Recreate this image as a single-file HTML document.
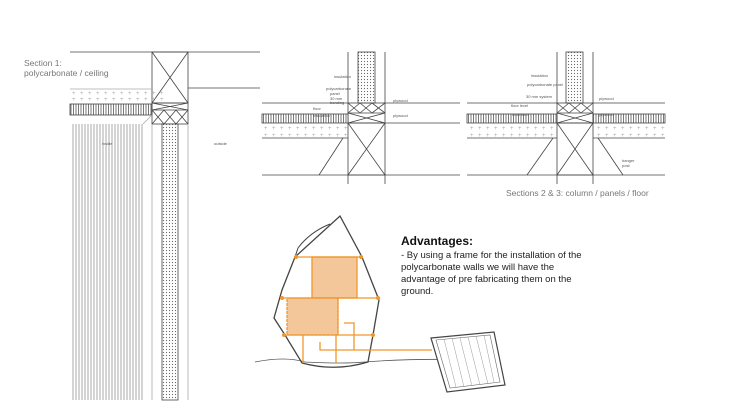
<!DOCTYPE html><html><head><style>body{margin:0;background:#fff}svg{display:block}text{font-family:"Liberation Sans",sans-serif}</style></head><body>
<svg width="730" height="411" viewBox="0 0 730 411" xmlns="http://www.w3.org/2000/svg">
<defs>
<pattern id="vs" width="3" height="10" patternUnits="userSpaceOnUse"><rect width="3" height="10" fill="#fff"/><line x1="1" y1="0" x2="1" y2="10" stroke="#aaa" stroke-width="1"/></pattern>
<pattern id="hb" width="2.5" height="10" patternUnits="userSpaceOnUse"><rect width="2.5" height="10" fill="#fff"/><line x1="1" y1="0" x2="1" y2="10" stroke="#555" stroke-width="0.8"/></pattern>
<pattern id="dt" width="3" height="3" patternUnits="userSpaceOnUse"><rect width="3" height="3" fill="#fff"/><circle cx="1.5" cy="1.5" r="0.6" fill="#666"/></pattern>
</defs>
<g stroke="#444" stroke-width="0.8" fill="none">
<line x1="70" y1="52" x2="260" y2="52"/>
<line x1="188" y1="88" x2="260" y2="88"/>
<rect x="152" y="52" width="36" height="51"/>
<line x1="152" y1="52" x2="188" y2="103"/><line x1="188" y1="52" x2="152" y2="103"/>
<line x1="70" y1="89" x2="152" y2="89" stroke="#aaa"/>
<rect x="70" y="104" width="82" height="11" fill="url(#hb)"/>
<rect x="152" y="103" width="36" height="21"/>
<line x1="152" y1="110" x2="188" y2="110"/>
<path d="M152 103L188 110M188 103L152 110M152 110l12 14M164 110l-12 14M164 110l12 14M176 110l-12 14M176 110l12 14M188 110l-12 14"/>
<rect x="72" y="124" width="71" height="276" fill="url(#vs)" stroke="none"/>
<rect x="162" y="124" width="16" height="276" fill="url(#dt)"/>
<line x1="152" y1="124" x2="152" y2="400" stroke="#aaa"/><line x1="188" y1="124" x2="188" y2="400" stroke="#aaa"/>
<line x1="143" y1="124" x2="152" y2="115" stroke="#aaa"/>
<line x1="262" y1="103" x2="348" y2="103"/><line x1="385" y1="103" x2="460" y2="103"/>
<line x1="348" y1="52" x2="348" y2="103"/><line x1="385" y1="52" x2="385" y2="103"/>
<rect x="358" y="52" width="17" height="51" fill="url(#dt)"/>
<rect x="348" y="103" width="37" height="20"/><line x1="348" y1="113" x2="385" y2="113"/>
<path d="M348 103l12 10M360 103l-12 10M360 103l12 10M372 103l-12 10M372 103l13 10M385 103l-13 10M348 113l37 10M385 113l-37 10"/>
<rect x="262" y="114" width="86" height="9" fill="url(#hb)"/>
<line x1="385" y1="123" x2="460" y2="123"/>
<line x1="262" y1="138" x2="348" y2="138"/>
<rect x="348" y="123" width="37" height="52"/><path d="M348 123L385 175M385 123L348 175"/>
<line x1="262" y1="175" x2="460" y2="175"/>
<line x1="348" y1="175" x2="348" y2="184"/><line x1="385" y1="175" x2="385" y2="184"/>
<line x1="319" y1="175" x2="343" y2="138"/>
<line x1="467" y1="103" x2="557" y2="103"/><line x1="593" y1="103" x2="665" y2="103"/>
<line x1="557" y1="52" x2="557" y2="103"/><line x1="593" y1="52" x2="593" y2="103"/>
<rect x="566" y="52" width="17" height="51" fill="url(#dt)"/>
<rect x="557" y="103" width="36" height="20"/><line x1="557" y1="113" x2="593" y2="113"/>
<path d="M557 103l12 10M569 103l-12 10M569 103l12 10M581 103l-12 10M581 103l12 10M593 103l-12 10M557 113l36 10M593 113l-36 10"/>
<rect x="467" y="114" width="90" height="9" fill="url(#hb)"/>
<rect x="593" y="114" width="72" height="9" fill="url(#hb)"/>
<line x1="467" y1="138" x2="557" y2="138"/><line x1="593" y1="138" x2="665" y2="138"/>
<rect x="557" y="123" width="36" height="52"/><path d="M557 123L593 175M593 123L557 175"/>
<line x1="467" y1="175" x2="665" y2="175"/>
<line x1="557" y1="175" x2="557" y2="184"/><line x1="593" y1="175" x2="593" y2="184"/>
<line x1="527" y1="175" x2="553" y2="138"/><line x1="598" y1="138" x2="623" y2="175"/>
</g>
<g fill="#aaa" font-size="6" letter-spacing="4.5">
<text x="72" y="95">++++++++++++</text><text x="72" y="101">++++++++++++</text>
<text x="264" y="130">+++++++++++</text><text x="264" y="137">+++++++++++</text>
<text x="470" y="130">+++++++++++</text><text x="470" y="137">+++++++++++</text>
<text x="597" y="130">+++++++++</text><text x="597" y="137">+++++++++</text>
</g>
<g fill="#555" font-size="4">
<text x="102" y="145">inside</text><text x="214" y="145">outside</text>
<text x="334" y="78">insulation</text><text x="326" y="90">polycarbonate</text><text x="330" y="95">panel</text><text x="330" y="100">30 mm</text><text x="330" y="104">bonding</text>
<text x="393" y="102">plywood</text><text x="393" y="117">plywood</text><text x="313" y="110">floor</text><text x="313" y="117">insulation</text>
<text x="531" y="77">insulation</text><text x="527" y="86">polycarbonate panel</text><text x="526" y="98">30 mm system</text>
<text x="599" y="100">plywood</text><text x="511" y="107">floor level</text><text x="512" y="116">insulation</text><text x="599" y="116">plywood</text>
<text x="622" y="162">hanger</text><text x="622" y="167">post</text>
</g>
<text x="24" y="66" font-size="8.5" fill="#777">Section 1:</text>
<text x="24" y="76" font-size="8.5" fill="#777">polycarbonate / ceiling</text>
<text x="506" y="196" font-size="8.5" fill="#777">Sections 2 &amp; 3: column / panels / floor</text>
<path d="M255 362q30-6 50 0q40 2 60 0q50-4 120 -2" stroke="#555" fill="none" stroke-width="0.8"/>
<path d="M340 216L362 257L379 300L373 335L368 362Q335 372 302 363L285 335L274 318L282 290L295 257Z" stroke="#444" stroke-width="1.3" fill="none"/>
<path d="M298 248Q310 232 330 224M298 248L295 257" stroke="#444" fill="none"/>
<g stroke="#f0962b" stroke-width="1.3" fill="none">
<rect x="312" y="257" width="45" height="41" fill="#f4c79a"/>
<rect x="287" y="298" width="51" height="37" fill="#f4c79a" stroke-dasharray="3 1"/>
<line x1="295" y1="257" x2="362" y2="257"/><line x1="281" y1="298" x2="379" y2="298"/><line x1="283" y1="335" x2="374" y2="335"/>
<line x1="338" y1="298" x2="338" y2="335" stroke-dasharray="2 2"/>
<line x1="303" y1="335" x2="303" y2="363"/><line x1="336" y1="335" x2="336" y2="363"/>
<path d="M320 342v8h112M344 323h10v27"/>
</g>
<g fill="#f0962b"><circle cx="296" cy="257" r="2"/><circle cx="361" cy="257" r="2"/><circle cx="282" cy="298" r="2"/><circle cx="378" cy="298" r="2"/><circle cx="284" cy="335" r="2"/><circle cx="373" cy="335" r="2"/></g>
<polygon points="431,338 494,332 505,385 447,392" fill="#fff" stroke="#444" stroke-width="1.2"/>
<polygon points="436,340 490,335 500,382 450,388" fill="none" stroke="#666" stroke-width="0.6"/>
<g stroke="#999" stroke-width="0.5"><path d="M444 339l12 48M452 338l12 49M460 338l12 48M468 337l12 48M476 336l12 48M484 335l10 47"/></g>
<text x="401" y="245" font-size="12" font-weight="bold" fill="#111">Advantages:</text>
<g font-size="9.5" fill="#222">
<text x="401" y="258">- By using a frame for the installation of the</text>
<text x="401" y="270">polycarbonate walls we will have the</text>
<text x="401" y="282">advantage of pre fabricating them on the</text>
<text x="401" y="294">ground.</text>
</g>
</svg></body></html>
